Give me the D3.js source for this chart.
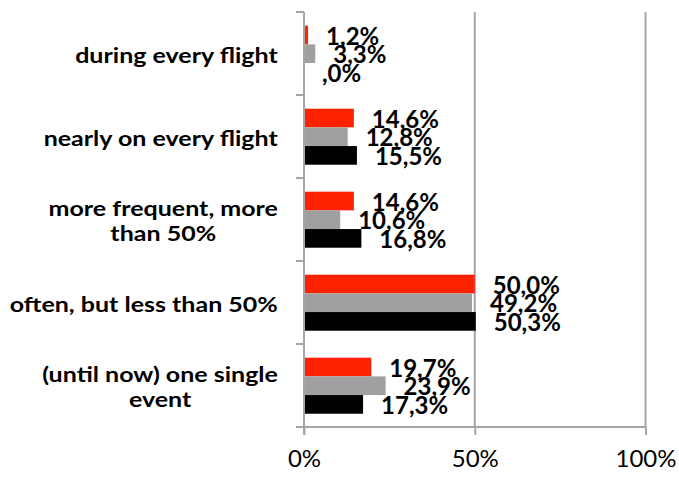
<!DOCTYPE html>
<html><head><meta charset="utf-8">
<script src="https://cdn.jsdelivr.net/npm/d3@7"></script>
<style>body{margin:0;background:#fff}svg{display:block}</style>
</head><body>
<svg id="c" width="679" height="478"></svg>
<script>
const categories = [
  ["during every flight"],
  ["nearly on every flight"],
  ["more frequent, more", "than 50%"],
  ["often, but less than 50%"],
  ["(until now) one single", "event"]
];
const seriesNames = ["s1", "s2", "s3"];
const seriesColors = ["#ff2200", "#a0a0a0", "#000000"];
const s1 = [1.2, 14.6, 14.6, 50.0, 19.7];
const s2 = [3.3, 12.8, 10.6, 49.2, 23.9];
const s3 = [0.0, 15.5, 16.8, 50.3, 17.3];
const labels1 = ["1,2%", "14,6%", "14,6%", "50,0%", "19,7%"];
const labels2 = ["3,3%", "12,8%", "10,6%", "49,2%", "23,9%"];
const labels3 = [",0%", "15,5%", "16,8%", "50,3%", "17,3%"];
const xTicks = [0, 50, 100];
const xTickLabels = ["0%", "50%", "100%"];

(function () {
const series = [s1, s2, s3];
const seriesLabels = [labels1, labels2, labels3];

const svg = d3.select("#c");
const pL = 304, pR = 645.5, pT = 12, pB = 427;
const x = d3.scaleLinear().domain([0, 100]).range([pL, pR]);
const y = d3.scaleBand().domain(d3.range(categories.length)).range([pT, pB]).padding(0);
const bw = y.bandwidth();
const inner = d3.scaleBand().domain(d3.range(series.length)).range([bw*0.165, bw*0.84]).padding(0);
const axisColor = "#a6a6a6";

svg.append("g").selectAll("line").data(xTicks.filter(t => t > 0)).join("line")
  .attr("x1", d => x(d)).attr("x2", d => x(d)).attr("y1", pT).attr("y2", pB)
  .attr("stroke", axisColor).attr("stroke-width", 2);

series.forEach((vals, si) => {
  svg.append("g").selectAll("rect").data(vals).join("rect")
    .attr("x", x(0))
    .attr("y", (d, i) => y(i) + inner(si))
    .attr("width", d => x(d) - x(0))
    .attr("height", inner.bandwidth())
    .attr("fill", seriesColors[si]);
});

const yBounds = d3.range(categories.length + 1).map(i => pT + i * bw);
svg.append("line").attr("x1", pL).attr("x2", pL).attr("y1", pT).attr("y2", pB + 8)
  .attr("stroke", axisColor).attr("stroke-width", 2);
svg.append("g").selectAll("line").data(yBounds).join("line")
  .attr("x1", pL - 8).attr("x2", pL).attr("y1", d => d).attr("y2", d => d)
  .attr("stroke", axisColor).attr("stroke-width", 2);

const xAxis = d3.axisBottom(x).tickValues(xTicks).tickSize(8).tickFormat((d, i) => xTickLabels[i]);
const gx = svg.append("g").attr("transform", `translate(0,${pB})`).call(xAxis);
gx.select(".domain").attr("d", `M${pL - 8},0H${pR}`).attr("stroke", axisColor).attr("stroke-width", 2);
gx.selectAll(".tick line").attr("stroke", axisColor).attr("stroke-width", 2);
gx.selectAll(".tick text").attr("y", 40).attr("dy", 0)
  .style("font-family", "Lato, 'Open Sans', sans-serif").style("font-size", "24px").attr("fill", "#000");

const sx = 1.22;
const catG = svg.append("g");
categories.forEach((lines, i) => {
  const cy = y(i) + bw / 2;
  const lh = 25;
  const t = catG.append("text").attr("text-anchor", "middle")
    .style("font-family", "Lato, sans-serif").style("font-weight", "bold").style("font-size", "20.5px");
  lines.forEach((ln, j) => {
    t.append("tspan").attr("x", 0).attr("y", cy + 9.5 + (j - (lines.length - 1) / 2) * lh).text(ln);
  });
  const w = t.node().getBBox().width * sx;
  t.attr("transform", `translate(${pL - 26 - w/2},0) scale(${sx},1)`);
});

series.forEach((vals, si) => {
  svg.append("g").selectAll("text").data(vals).join("text")
    .attr("x", d => x(d) + 18)
    .attr("y", (d, i) => y(i) + inner(si) + inner.bandwidth() / 2 + 9.5)
    .style("font-family", "Lato, sans-serif").style("font-weight", "bold").style("font-size", "24px")
    .attr("fill", "#000")
    .text((d, i) => seriesLabels[si][i]);
});
})();
</script>
</body></html>
